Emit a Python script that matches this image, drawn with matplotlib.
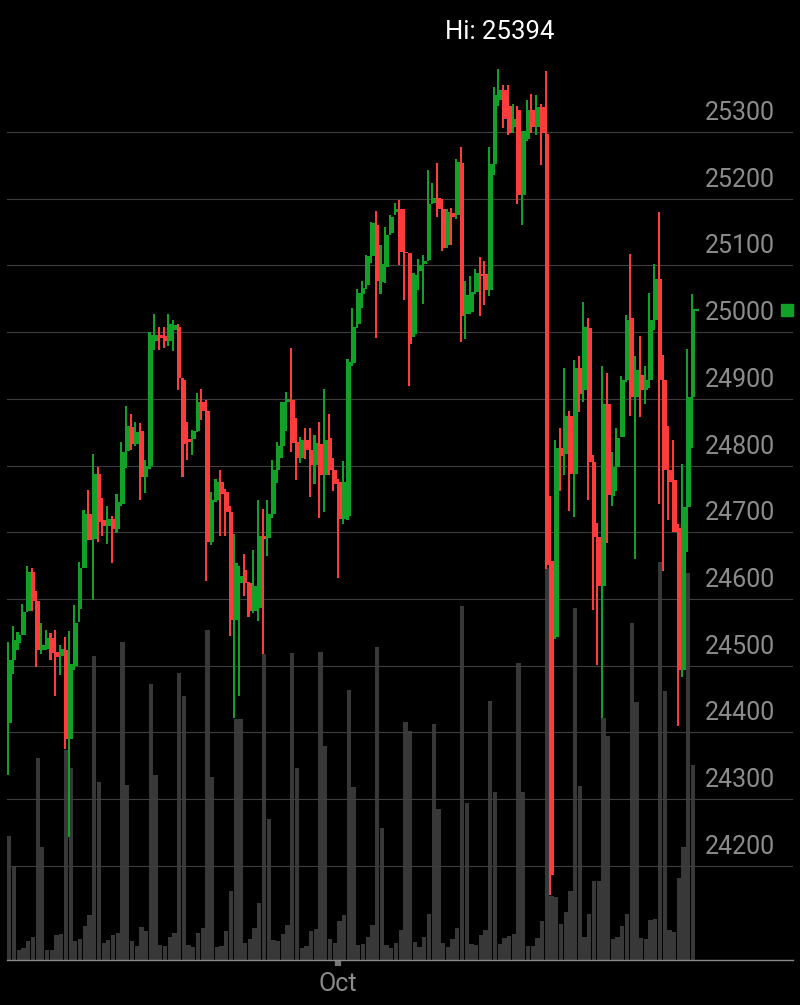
"""plot.py: hourly candlestick chart with volume bars, dark mobile-app style."""

import matplotlib
matplotlib.use("Agg")
import matplotlib.pyplot as plt
import matplotlib.transforms as mtransforms
import numpy as np

# one entry per hourly bar, oldest first
OPEN = [
    24414, 24508, 24534, 24546, 24582, 24640, 24597, 24524, 24525, 24541, 24520, 24514,
    24524, 24391, 24500, 24585, 24646, 24728, 24690, 24788, 24718, 24710, 24720, 24705,
    24742, 24822, 24858, 24833, 24852, 24783, 24799, 24987, 24996, 24994, 24987, 25004,
    25008, 24928, 24840, 24840, 24852, 24896, 24882, 24686, 24748, 24775, 24761, 24730,
    24569, 24624, 24643, 24624, 24582, 24587, 24694, 24692, 24727, 24793, 24830, 24895,
    24899, 24835, 24812, 24838, 24823, 24801, 24832, 24786, 24841, 24793, 24775, 24720,
    24724, 24954, 25012, 25057, 25071, 25114, 25161, 25075, 25098, 25149, 25180, 25184,
    25120, 25118, 24997, 25092, 25102, 25108, 25194, 25201, 25184, 25130, 25178, 25175,
    25253, 25027, 25030, 25061, 25087, 25087, 25063, 25252, 25348, 25363, 25339, 25307,
    25333, 25205, 25290, 25333, 25308, 25338, 25297, 24657, 24543, 24826, 24818, 24874,
    24788, 24946, 24914, 25006, 24805, 24693, 24620, 24892, 24754, 24798, 24843, 24928,
    25022, 24903, 24936, 24914, 24928, 25019, 25080, 24928, 24794, 24778, 24706, 24493,
    24738, 24903,
]
HIGH = [
    24536, 24559, 24551, 24592, 24649, 24647, 24612, 24564, 24553, 24549, 24554, 24531,
    24543, 24552, 24591, 24655, 24734, 24764, 24817, 24798, 24751, 24739, 24724, 24757,
    24836, 24890, 24877, 24866, 24864, 24809, 25000, 25028, 25008, 25008, 25027, 25019,
    25013, 24931, 24865, 24854, 24909, 24915, 24899, 24761, 24780, 24794, 24765, 24739,
    24698, 24650, 24667, 24626, 24673, 24749, 24735, 24748, 24808, 24836, 24896, 24911,
    24976, 24871, 24843, 24857, 24856, 24846, 24865, 24915, 24878, 24812, 24780, 24807,
    24960, 25037, 25065, 25076, 25115, 25165, 25182, 25130, 25158, 25176, 25194, 25198,
    25184, 25118, 25088, 25110, 25115, 25243, 25223, 25253, 25200, 25184, 25186, 25259,
    25277, 25076, 25084, 25095, 25113, 25106, 25278, 25368, 25394, 25370, 25370, 25342,
    25339, 25302, 25348, 25357, 25355, 25342, 25391, 24754, 24838, 24856, 24947, 24882,
    24958, 24965, 25046, 25022, 24816, 24714, 24950, 24939, 24820, 24856, 24935, 25026,
    25117, 24964, 24994, 24950, 25059, 25102, 25180, 24966, 24859, 24838, 24712, 24803,
    24975, 25057,
]
LOW = [
    24336, 24487, 24523, 24546, 24580, 24582, 24498, 24518, 24524, 24508, 24455, 24486,
    24375, 24244, 24494, 24565, 24646, 24689, 24598, 24685, 24694, 24682, 24654, 24699,
    24739, 24796, 24824, 24830, 24748, 24759, 24795, 24973, 24973, 24977, 24979, 24972,
    24914, 24783, 24809, 24816, 24851, 24868, 24627, 24681, 24745, 24695, 24694, 24544,
    24422, 24454, 24604, 24573, 24579, 24567, 24518, 24665, 24721, 24774, 24812, 24852,
    24821, 24779, 24804, 24810, 24753, 24773, 24721, 24731, 24786, 24762, 24632, 24712,
    24718, 24950, 25007, 25037, 25065, 25104, 24991, 25057, 25073, 25145, 25175, 25100,
    25049, 24920, 24993, 25063, 25043, 25106, 25192, 25172, 25122, 25126, 25130, 25169,
    24985, 24990, 25027, 25058, 25024, 25041, 25054, 25236, 25339, 25306, 25295, 25299,
    25192, 25160, 25286, 25299, 25295, 25250, 24645, 24157, 24540, 24762, 24786, 24732,
    24723, 24881, 24896, 24749, 24584, 24501, 24421, 24684, 24740, 24762, 24843, 24925,
    24875, 24660, 24873, 24892, 24917, 25004, 24743, 24642, 24718, 24700, 24410, 24483,
    24671, 24827,
]
CLOSE = [
    24508, 24538, 24546, 24580, 24640, 24597, 24524, 24531, 24541, 24519, 24513, 24525,
    24391, 24502, 24564, 24646, 24728, 24689, 24788, 24715, 24710, 24720, 24705, 24745,
    24821, 24860, 24833, 24851, 24783, 24799, 24996, 24996, 24991, 24987, 25013, 25011,
    24931, 24833, 24836, 24852, 24896, 24882, 24686, 24748, 24775, 24758, 24730, 24569,
    24654, 24635, 24624, 24582, 24620, 24694, 24690, 24727, 24793, 24830, 24895, 24900,
    24834, 24812, 24838, 24824, 24801, 24834, 24786, 24838, 24793, 24773, 24720, 24775,
    24955, 25008, 25059, 25067, 25114, 25163, 25076, 25102, 25145, 25172, 25184, 25120,
    25118, 24982, 25085, 25100, 25106, 25192, 25201, 25184, 25126, 25180, 25172, 25255,
    25024, 25056, 25060, 25088, 25084, 25063, 25252, 25355, 25363, 25320, 25299, 25320,
    25205, 25301, 25333, 25308, 25338, 25299, 24651, 24187, 24826, 24814, 24875, 24788,
    24947, 24907, 25008, 24805, 24693, 24620, 24892, 24756, 24798, 24841, 24928, 25019,
    24903, 24943, 24914, 24928, 25019, 25080, 24928, 24794, 24776, 24700, 24493, 24738,
    24903, 25033,
]
# volume per bar, lakh
VOLUME = [
    12.4, 9.3, 1.0, 1.2, 1.9, 2.3, 20.2, 11.3, 1.0, 1.0, 2.5, 2.6,
    21.0, 19.2, 1.9, 2.1, 3.4, 4.5, 30.4, 17.8, 1.7, 2.0, 2.5, 2.7,
    31.8, 17.5, 1.9, 1.4, 3.3, 2.9, 27.6, 18.5, 1.5, 1.4, 2.3, 2.7,
    28.7, 26.4, 1.5, 1.3, 2.7, 3.2, 33.0, 18.3, 1.3, 1.4, 2.9, 6.9,
    24.1, 24.1, 1.7, 2.1, 3.2, 5.7, 30.6, 14.1, 2.0, 1.9, 2.6, 3.5,
    30.7, 19.2, 1.2, 1.4, 2.9, 3.1, 30.8, 21.4, 2.1, 1.7, 3.9, 4.5,
    27.0, 17.3, 1.5, 1.6, 2.3, 3.5, 31.3, 13.2, 1.5, 1.2, 1.7, 3.0,
    23.8, 22.9, 1.8, 1.3, 2.3, 4.6, 23.6, 15.1, 1.7, 1.3, 2.1, 3.2,
    35.4, 15.7, 1.6, 1.5, 2.5, 3.0, 25.9, 16.8, 1.6, 2.2, 2.4, 2.6,
    29.7, 16.8, 1.4, 1.4, 2.2, 3.9, 39.2, 6.4, 6.3, 3.6, 4.8, 6.9,
    35.2, 17.4, 2.3, 4.6, 7.9, 7.9, 24.2, 22.4, 2.1, 2.3, 3.4, 4.6,
    33.7, 25.8, 2.2, 2.1, 4.0, 4.1, 39.8, 26.9, 3.0, 2.8, 8.2, 11.3,
    38.7, 19.5,
]

PRICE_TICKS = [24200, 24300, 24400, 24500, 24600, 24700, 24800, 24900,
               25000, 25100, 25200, 25300]
MONTH_TICK_POS = 69.6
MONTH_TICK_LABEL = "Oct"

UP_COLOR = "#11a127"
DOWN_COLOR = "#ff3b3b"
VOLUME_COLOR = "#383838"
GRID_COLOR = "#3e3e3e"
LABEL_COLOR = "#8c8c8c"

plt.rcParams["font.family"] = ["Roboto", "DejaVu Sans"]


def draw_volume(ax, x, volume):
    """Volume histogram behind the price panel."""
    ax.bar(x, volume, width=0.9, color=VOLUME_COLOR, linewidth=0)
    ax.set_ylim(0, 90)
    ax.axis("off")


def draw_candles(ax, x, o, h, l, c):
    """Wick on the left of each slot, body on the right."""
    colors = np.where(c >= o, UP_COLOR, DOWN_COLOR)
    body_low = np.minimum(o, c)
    body_h = np.maximum(np.abs(c - o), 1.5)
    ax.bar(x - 0.5, h - l, bottom=l, width=0.44, align="edge",
           color=colors, linewidth=0, zorder=2)
    ax.bar(x - 0.12, body_h, bottom=body_low, width=0.62, align="edge",
           color=colors, linewidth=0, zorder=3)


def main():
    o, h, l, c = (np.array(a, dtype=float) for a in (OPEN, HIGH, LOW, CLOSE))
    x = np.arange(len(o))
    xlim = (-0.5, 166.2)
    rect = [7 / 800, 45 / 1005, 786 / 800, 900 / 1005]

    fig = plt.figure(figsize=(8, 10.05), dpi=100, facecolor="black")

    ax_vol = fig.add_axes(rect)
    ax_vol.set_facecolor("black")
    ax_vol.set_xlim(*xlim)
    draw_volume(ax_vol, x, VOLUME)

    ax = fig.add_axes(rect)
    ax.patch.set_alpha(0)
    ax.set_xlim(*xlim)
    ax.set_ylim(24059, 25408)

    for v in PRICE_TICKS:
        ax.axhline(v, color=GRID_COLOR, lw=0.8, zorder=1)

    draw_candles(ax, x, o, h, l, c)

    # price labels sit just above their grid line, inside the plot
    blend = mtransforms.blended_transform_factory(ax.transAxes, ax.transData)
    for v in PRICE_TICKS:
        ax.annotate(str(v), xy=(0.888, v), xycoords=blend, xytext=(0, 19),
                    textcoords="offset pixels", ha="left", va="center",
                    color=LABEL_COLOR, fontsize=18)

    # last price marker
    last_color = UP_COLOR if c[-1] >= o[-1] else DOWN_COLOR
    ax.hlines(c[-1], x[-1] - 0.05, x[-1] + 1.3, color=last_color, lw=1.6, zorder=3)
    ax.plot([0.993], [c[-1]], transform=blend, marker="s", ms=8,
            color=last_color, clip_on=False, zorder=4)

    for side in ("top", "left", "right"):
        ax.spines[side].set_visible(False)
    ax.spines["bottom"].set_color("#8a8a8a")
    ax.spines["bottom"].set_linewidth(1.0)
    ax.set_yticks([])
    ax.set_xticks([MONTH_TICK_POS])
    ax.set_xticklabels([MONTH_TICK_LABEL])
    ax.tick_params(axis="x", length=4.5, width=4.5, color="#777777",
                   labelcolor=LABEL_COLOR, labelsize=18, pad=4)

    fig.text(500 / 800, 1 - 32 / 1005, f"Hi: {h.max():.0f}", color="white",
             fontsize=18.5, ha="center", va="center")

    fig.savefig("out.png", dpi=100, facecolor="black")
    plt.close(fig)


if __name__ == "__main__":
    main()
